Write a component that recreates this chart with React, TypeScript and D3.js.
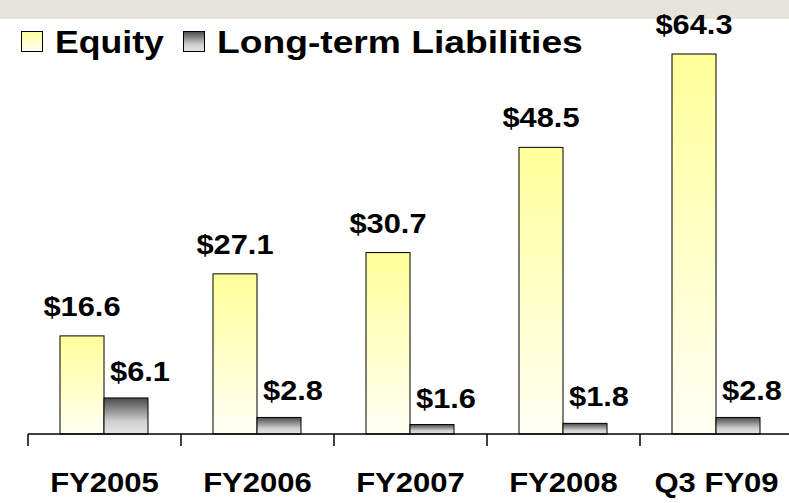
import React from 'react';
import * as d3 from 'd3';

const categories = ['FY2005', 'FY2006', 'FY2007', 'FY2008', 'Q3 FY09'];
const equity = [16.6, 27.1, 30.7, 48.5, 64.3];
const liabilities = [6.1, 2.8, 1.6, 1.8, 2.8];
const seriesNames = ['Equity', 'Long-term Liabilities'];

const W = 789;
const H = 503;
const FONT = '"Liberation Sans", Arial, sans-serif';
const SX = 1.15; // text in the original is a little stretched sideways

const App = () => {
  const baseY = 434;

  const x = d3.scaleBand<string>()
    .domain(categories)
    .range([28, 793])
    .paddingInner(0)
    .paddingOuter(0);

  // bars sit in the middle of each category
  const inner = d3.scaleBand<string>()
    .domain(['eq', 'lt'])
    .range([32, 32 + 88]);

  const y = d3.scaleLinear()
    .domain([0, 64.3])
    .range([baseY, 54]);

  const label = (tx: number, ty: number, txt: string, size: number, anchor = 'middle', sx = SX) => (
    <text
      transform={`translate(${tx},${ty}) scale(${sx},1)`}
      textAnchor={anchor}
      fontFamily={FONT}
      fontWeight="bold"
      fontSize={size}
      fill="#000"
    >
      {txt}
    </text>
  );

  return (
    <svg width={W} height={H} style={{ position: 'absolute', left: 0, top: 0 }}>
      <defs>
        <linearGradient id="gEq" x1="0" y1="0" x2="0" y2="1">
          <stop offset="0%" stopColor="#ffff99" />
          <stop offset="100%" stopColor="#fffff4" />
        </linearGradient>
        <linearGradient id="gLt" x1="0" y1="0" x2="0" y2="1">
          <stop offset="0%" stopColor="#4a4a4a" />
          <stop offset="65%" stopColor="#cfcfcf" />
          <stop offset="100%" stopColor="#e6e6e6" />
        </linearGradient>
      </defs>

      <rect x={0} y={0} width={W} height={H} fill="#fff" />
      <rect x={0} y={0} width={W} height={19} fill="#e6e3dc" />

      {/* legend */}
      <rect x={21.5} y={31.5} width={21} height={20} fill="url(#gEq)" stroke="#000" strokeWidth={1} />
      {label(55, 53, seriesNames[0], 31, 'start', 1.15)}
      <rect x={183.5} y={31.5} width={21} height={20} fill="url(#gLt)" stroke="#000" strokeWidth={1} />
      {label(217, 53, seriesNames[1], 31, 'start', 1.2)}

      {/* bars */}
      {categories.map((c, i) => {
        const x0 = x(c)!;
        const ex = x0 + inner('eq')!;
        const lx = x0 + inner('lt')!;
        const bw = inner.bandwidth();
        return (
          <g key={c}>
            <rect x={ex} y={y(equity[i])} width={bw} height={baseY - y(equity[i])}
              fill="url(#gEq)" stroke="#000" strokeWidth={1} />
            <rect x={lx} y={y(liabilities[i])} width={bw} height={baseY - y(liabilities[i])}
              fill="url(#gLt)" stroke="#000" strokeWidth={1} />
            {label(ex + bw / 2, y(equity[i]) - 20, `$${equity[i].toFixed(1)}`, 28, 'middle', 1.1)}
            {label(lx + bw / 2 + 14, y(liabilities[i]) - 17, `$${liabilities[i].toFixed(1)}`, 28, 'middle', 1.1)}
            {label(x0 + x.bandwidth() / 2, 492, c, 27)}
          </g>
        );
      })}

      {/* axis */}
      <line x1={28} x2={W} y1={baseY} y2={baseY} stroke="#000" strokeWidth={1.5} />
      {categories.map((c) => (
        <line key={c} x1={x(c)!} x2={x(c)!} y1={baseY} y2={baseY + 12} stroke="#000" strokeWidth={1.5} />
      ))}
    </svg>
  );
};

export default App;
